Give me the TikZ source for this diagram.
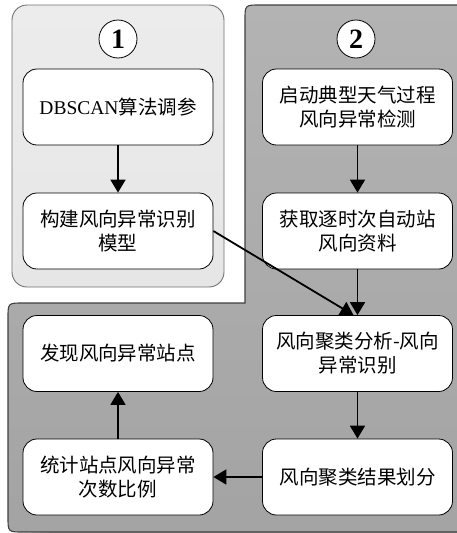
\documentclass[tikz,border=0pt]{standalone}
\usepackage{fontspec}
\setmainfont{Liberation Serif}
\newfontfamily\cjk{Noto Sans CJK SC}
\usetikzlibrary{arrows.meta}
\definecolor{panelA}{HTML}{E6E6E6}
\definecolor{panelAtop}{HTML}{ECECEC}
\definecolor{panelBtop}{HTML}{B3B3B3}
\definecolor{panelBbot}{HTML}{A3A3A3}
\definecolor{edgeA}{HTML}{707070}
\definecolor{edgeB}{HTML}{404040}
\begin{document}
\begin{tikzpicture}[x=1pt,y=-1pt,
  box/.style={draw=black, line width=0.8pt, fill=white, rounded corners=14pt,
    minimum width=190pt, minimum height=76pt, inner sep=0pt, align=center,
    font=\cjk\fontsize{19.5}{24}\selectfont},
  numc/.style={circle, draw=black, line width=0.8pt, fill=white, minimum size=38pt,
    inner sep=0pt, font=\rmfamily\bfseries\fontsize{28}{28}\selectfont},
  arr/.style={line width=1.8pt, -{Triangle[length=13pt,width=15pt]}}]
\useasboundingbox (0,0) rectangle (457,533);
\begin{scope}
\clip (0,0) rectangle (457,533);
% panel 1
\path[rounded corners=15pt, draw=edgeA, line width=0.9pt, top color=panelAtop, bottom color=panelA]
  (12,5) rectangle (224,287);
% panel 2
\path[top color=panelBtop, bottom color=panelBbot]
  (470,5) -- (260,5) .. controls (245,5) .. (245,20) -- (245,303) -- (23,303)
  .. controls (8,303) .. (8,318) -- (8,517) .. controls (8,532) .. (23,532) -- (470,545) -- cycle;
\draw[edgeB, line width=1.1pt]
  (470,5) -- (260,5) .. controls (245,5) .. (245,20) -- (245,303) -- (23,303)
  .. controls (8,303) .. (8,318) -- (8,517) .. controls (8,532) .. (23,532) -- (470,532);
\end{scope}
% circles
\node[numc] (c1) at (118,39) {1};
\node[numc] (c2) at (356,39) {2};
% boxes
\node[box] (l1) at (118,107) {{\rmfamily DBSCAN}算法调参};
\node[box] (l2) at (118,231) {构建风向异常识别\\模型};
\node[box] (l3) at (118,353.5) {发现风向异常站点};
\node[box] (l4) at (118,477) {统计站点风向异常\\次数比例};
\node[box] (r1) at (357.5,107) {启动典型天气过程\\风向异常检测};
\node[box] (r2) at (357.5,231) {获取逐时次自动站\\风向资料};
\node[box] (r3) at (357.5,353.5) {风向聚类分析-风向\\异常识别};
\node[box] (r4) at (357.5,477) {风向聚类结果划分};
% arrows
\draw[arr] (l1) -- (l2);
\draw[arr] (r1) -- (r2);
\draw[arr] (r2) -- (r3);
\draw[arr] (l2.east) -- ([xshift=-4pt]r3.north);
\draw[arr] (r3) -- (r4);
\draw[arr] (r4) -- (l4);
\draw[arr] (l4) -- (l3);
\end{tikzpicture}
\end{document}
